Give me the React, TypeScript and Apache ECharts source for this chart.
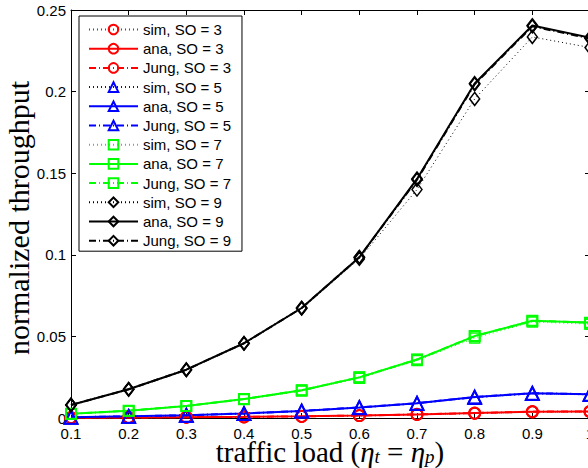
import React, { useEffect, useRef } from "react";
import * as echarts from "echarts";

const loads = [0.1, 0.2, 0.3, 0.4, 0.5, 0.6, 0.7, 0.8, 0.9, 1.0];

const sim3 = [0.0002, 0.0003, 0.0004, 0.0006, 0.0009, 0.0014, 0.0021, 0.0028, 0.0036, 0.0037];
const ana3 = [0.0002, 0.0003, 0.0005, 0.0007, 0.001, 0.0015, 0.0022, 0.003, 0.0039, 0.004];
const jung3 = [0.0002, 0.0003, 0.0005, 0.0007, 0.001, 0.0015, 0.0022, 0.003, 0.0039, 0.004];

const sim5 = [0.0004, 0.0009, 0.0016, 0.0026, 0.0041, 0.0062, 0.0088, 0.0124, 0.0148, 0.0142];
const ana5 = [0.0005, 0.001, 0.0017, 0.0028, 0.0043, 0.0065, 0.0091, 0.0128, 0.0152, 0.0146];
const jung5 = [0.0005, 0.001, 0.0017, 0.0028, 0.0043, 0.0065, 0.0091, 0.0128, 0.0152, 0.0146];

const sim7 = [0.0025, 0.0044, 0.0072, 0.0113, 0.0166, 0.0244, 0.0352, 0.049, 0.0588, 0.0575];
const ana7 = [0.0026, 0.0045, 0.0074, 0.0116, 0.017, 0.0249, 0.0358, 0.0502, 0.0596, 0.0584];
const jung7 = [0.0026, 0.0045, 0.0074, 0.0116, 0.017, 0.0249, 0.0358, 0.0502, 0.0596, 0.0584];

const sim9 = [0.008, 0.0176, 0.0294, 0.0456, 0.067, 0.0975, 0.14, 0.1955, 0.2335, 0.227];
const ana9 = [0.008, 0.0176, 0.0296, 0.0458, 0.0674, 0.0985, 0.1465, 0.205, 0.2405, 0.233];
const jung9 = [0.008, 0.0176, 0.0296, 0.0458, 0.0674, 0.0985, 0.146, 0.2045, 0.24, 0.2325];

const groups = [
  { so: 3, color: "#ff0000", symbol: "circle", size: 11, sim: sim3, ana: ana3, jung: jung3 },
  { so: 5, color: "#0000ff", symbol: "triangle", size: 13, sim: sim5, ana: ana5, jung: jung5 },
  { so: 7, color: "#00ff00", symbol: "rect", size: 10, sim: sim7, ana: ana7, jung: jung7 },
  { so: 9, color: "#000000", symbol: "diamond", size: [10, 13], sim: sim9, ana: ana9, jung: jung9 },
];

const kinds = [
  { key: "sim", label: "sim", type: [1, 3], width: 1, border: 1.5 },
  { key: "ana", label: "ana", type: "solid", width: 2, border: 2 },
  { key: "jung", label: "Jung", type: [7, 3, 1, 3], width: 2, border: 1.5 },
];

export default function App() {
  const ref = useRef<HTMLDivElement>(null);
  useEffect(() => {
    if (!ref.current) return;
    const chart = echarts.init(ref.current, null, { renderer: "svg" });
    const series: any[] = [];
    const names: string[] = [];
    groups.forEach((g) => {
      kinds.forEach((k) => {
        const name = `${k.label}, SO = ${g.so}`;
        names.push(name);
        const vals = (g as any)[k.key] as number[];
        series.push({
          name,
          type: "line",
          data: loads.map((x, i) => [x, vals[i]]),
          symbol: g.symbol,
          symbolSize: g.size,
          showSymbol: true,
          clip: false,
          lineStyle: { color: g.color, width: k.width, type: k.type },
          itemStyle: { color: "rgba(0,0,0,0)", borderColor: g.color, borderWidth: k.border },
          emphasis: { disabled: true },
        });
      });
    });
    const axisCommon = {
      axisLine: { show: true, onZero: false, lineStyle: { color: "#000", width: 1 } },
      axisTick: { show: true, inside: true, length: 5, lineStyle: { color: "#000" } },
      splitLine: { show: false },
    };
    const labelStyle = { color: "#000", fontSize: 15, fontFamily: "Liberation Sans, Arial, sans-serif" };
    const option: any = {
      animation: false,
      backgroundColor: "#fff",
      grid: { left: 71, right: -2, top: 10, bottom: 50, containLabel: false, outerBoundsMode: "none" },
      xAxis: [
        { type: "value", min: 0.1, max: 1.0, interval: 0.1, position: "bottom", ...axisCommon, axisLabel: { ...labelStyle, margin: 8, hideOverlap: false } },
        { type: "value", min: 0.1, max: 1.0, interval: 0.1, position: "top", ...axisCommon, axisLabel: { show: false } },
      ],
      yAxis: [
        { type: "value", min: 0, max: 0.25, interval: 0.05, position: "left", ...axisCommon, axisLabel: { ...labelStyle, margin: 5 } },
        { type: "value", min: 0, max: 0.25, interval: 0.05, position: "right", ...axisCommon, axisLabel: { show: false } },
      ],
      legend: {
        data: names,
        orient: "vertical",
        left: 79,
        top: 16,
        itemWidth: 49,
        itemHeight: 12,
        itemGap: 4.2,
        padding: [6, 11, 3, 9],
        backgroundColor: "#fff",
        borderColor: "#000",
        borderWidth: 1,
        borderRadius: 0,
        selectedMode: false,
        textStyle: { ...labelStyle, lineHeight: 15 },
        z: 10,
      },
      graphic: [
        {
          type: "text",
          x: 330,
          y: 452,
          style: {
            text: "{a|traffic load (}{i|η}{s|t}{a| = }{i|η}{s|p}{a|)}",
            textAlign: "center",
            textVerticalAlign: "middle",
            rich: {
              a: { fontFamily: "Liberation Serif", fontSize: 29, lineHeight: 28, fill: "#000" },
              i: { fontFamily: "Liberation Serif", fontStyle: "italic", fontSize: 29, lineHeight: 28, fill: "#000" },
              s: { fontFamily: "Liberation Serif", fontStyle: "italic", fontSize: 19, lineHeight: 12, verticalAlign: "bottom", fill: "#000" },
            },
          },
        },
        {
          type: "text",
          x: 18,
          y: 218,
          rotation: Math.PI / 2,
          style: {
            text: "normalized throughput",
            fontFamily: "Liberation Serif",
            fontSize: 30,
            fill: "#000",
            textAlign: "center",
            textVerticalAlign: "middle",
          },
        },
      ],
      series,
    };
    chart.setOption(option);
    return () => chart.dispose();
  }, []);
  return <div ref={ref} style={{ width: 588, height: 468, position: "absolute", left: 0, top: 0 }} />;
}
